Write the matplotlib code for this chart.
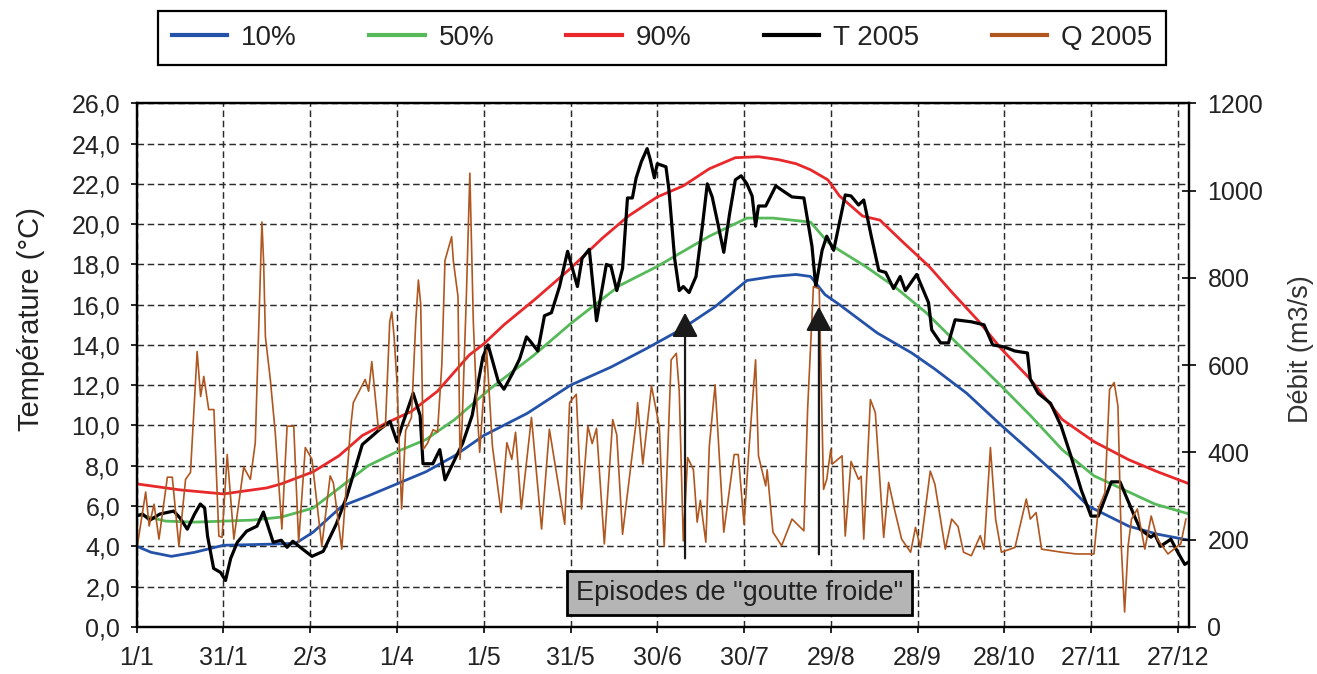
import matplotlib
matplotlib.use("Agg")
import matplotlib.pyplot as plt

plt.rcParams['font.family'] = ['Liberation Sans', 'DejaVu Sans']

# day of year (0 = 1 janvier)
tick_days = [0, 30, 60, 90, 120, 150, 180, 210, 240, 270, 300, 330, 360]
tick_labels = ["1/1", "31/1", "2/3", "1/4", "1/5", "31/5", "30/6", "30/7",
               "29/8", "28/9", "28/10", "27/11", "27/12"]

# percentile curves of temperature (°C)
p10_days = [0, 5, 12, 20, 30, 45, 55, 61, 71, 80, 90, 100, 110, 120, 135, 150, 164, 176,
            188, 200, 211, 220, 228, 233, 238, 243, 256, 268, 276, 287, 299, 310, 320,
            329, 343, 353, 364]
p10 = [4.0, 3.7, 3.5, 3.7, 4.05, 4.1, 4.15, 4.7, 6.0, 6.5, 7.1, 7.7, 8.5, 9.5, 10.6, 12.0,
       12.9, 13.8, 14.75, 15.9, 17.2, 17.4, 17.5, 17.4, 16.5, 16.0, 14.6, 13.6, 12.8, 11.6,
       10.0, 8.6, 7.3, 6.0, 5.0, 4.6, 4.3]

p50_days = [0, 10, 20, 30, 40, 50, 61, 71, 80, 90, 100, 110, 122, 137, 150, 167, 180, 198,
            211, 220, 233, 239, 243, 252, 262, 273, 286, 293, 299, 309, 320, 331, 343, 352, 364]
p50 = [5.6, 5.25, 5.2, 5.25, 5.3, 5.45, 5.9, 7.0, 8.0, 8.7, 9.3, 10.3, 11.8, 13.45, 15.05,
       16.95, 17.9, 19.4, 20.3, 20.3, 20.1, 19.1, 18.7, 17.9, 16.9, 15.6, 13.75, 12.8, 11.95,
       10.5, 8.8, 7.5, 6.7, 6.1, 5.6]

p90_days = [0, 15, 30, 45, 50, 61, 70, 78, 86, 95, 104, 115, 120, 127, 138, 150, 161, 170,
            180, 189, 198, 207, 215, 222, 228, 233, 239, 243, 251, 257, 265, 274, 282, 291,
            299, 309, 320, 331, 343, 353, 364]
p90 = [7.1, 6.8, 6.6, 6.9, 7.1, 7.7, 8.5, 9.5, 10.1, 10.7, 11.7, 13.5, 14.05, 15.0, 16.3,
       17.8, 19.3, 20.4, 21.35, 21.9, 22.75, 23.3, 23.35, 23.2, 23.0, 22.7, 22.2, 21.4, 20.4,
       20.2, 19.1, 17.9, 16.6, 15.2, 13.8, 12.3, 10.3, 9.2, 8.3, 7.7, 7.1]

# temperature 2005 (°C)
t_days = [0, 2, 4.6, 8, 12.8, 15, 17.5, 20, 22, 23.5, 24.5, 26.6, 29, 30.7, 32.5, 34.8, 38,
          41.6, 43.8, 47.2, 50, 52, 54, 57, 60.6, 64.5, 69, 72.7, 78, 84, 87.6, 90, 92, 95.6,
          98, 99, 102.4, 104.8, 106.6, 112.8, 116, 119.7, 121.5, 125, 127, 130, 132.4, 134.8,
          136, 138.7, 141, 143.4, 146.2, 149, 152.4, 154, 156.5, 159, 162.4, 164, 166, 168,
          169.7, 171.4, 172.7, 174.5, 176.5, 177.5, 179, 180, 183, 184, 186, 187.6, 189, 191,
          193.4, 195.6, 197.3, 199, 201, 203, 205, 207, 209, 211, 212.8, 214, 215, 217.5, 221,
          224, 226.6, 230.7, 233.5, 234.8, 237, 238.6, 241, 245, 247, 249.6, 251.4, 254,
          256.6, 259, 261.7, 264, 265.8, 269.7, 273.8, 274.9, 278, 280.7, 283, 288.6, 293,
          296, 300, 303.6, 308, 309, 311.7, 316, 319.7, 323, 326.6, 330, 332.5, 337, 340, 345,
          347, 350.7, 352, 354, 357.6, 360, 362.4, 363.5]
t2005 = [5.5, 5.6, 5.3, 5.6, 5.75, 5.4, 4.85, 5.6, 6.1, 5.9, 4.5, 2.9, 2.7, 2.3, 3.4, 4.2,
         4.75, 5.0, 5.7, 4.2, 4.3, 3.95, 4.25, 3.9, 3.5, 3.75, 5.1, 6.5, 9.05, 9.8, 10.2, 9.2,
         10.1, 11.6, 10.5, 8.1, 8.1, 8.8, 7.3, 9.15, 10.5, 13.4, 14.0, 12.2, 11.8, 12.6, 13.3,
         14.4, 14.2, 13.7, 15.45, 15.6, 16.9, 18.65, 16.9, 18.3, 18.75, 15.2, 18.0, 17.9, 16.7,
         17.8, 21.3, 21.3, 22.3, 23.1, 23.75, 23.25, 22.3, 23.0, 22.85, 21.75, 18.3, 16.7,
         16.9, 16.6, 17.4, 19.9, 22.0, 21.35, 20.0, 18.6, 20.5, 22.2, 22.4, 22.0, 21.4, 19.9,
         20.9, 20.9, 21.9, 21.6, 21.35, 21.3, 18.9, 16.9, 18.7, 19.4, 18.7, 21.45, 21.4, 20.95,
         21.2, 19.4, 17.7, 17.6, 16.8, 17.4, 16.7, 17.5, 16.1, 14.75, 14.1, 14.1, 15.25,
         15.15, 15.0, 14.0, 13.9, 13.7, 13.6, 12.3, 11.6, 11.1, 9.95, 8.5, 6.8, 5.5, 5.5, 7.2,
         7.2, 5.5, 4.85, 4.45, 4.6, 4.0, 4.35, 3.7, 3.1, 3.2]

# discharge 2005 (m3/s)
q_days = [0.2, 3.1, 4.3, 6.0, 7.7, 10.6, 12.3, 14.6, 16.9, 18.6, 20.9, 22.1, 23.2, 24.9,
          26.7, 28.4, 29.5, 31.3, 33.6, 37.0, 39.3, 41.0, 43.3, 43.9, 44.5, 46.2, 47.9, 50.2,
          52.0, 54.3, 56.0, 58.3, 60.6, 64.0, 66.9, 68.0, 70.9, 73.8, 74.9, 79.0, 80.2, 81.3,
          83.6, 86.0, 87.5, 88.2, 89.0, 90.0, 91.6, 93.0, 95.0, 96.5, 97.4, 98.2, 99.1, 100.5,
          102.5, 104.0, 105.5, 106.6, 108.9, 109.5, 111.1, 111.8, 112.5, 114.0, 115.2, 116.4,
          117.5, 118.6, 121, 123, 126, 128, 129.7, 131, 133, 136.5, 140, 142.7, 148, 149.7,
          152, 153.8, 156, 157.5, 159, 161.7, 164.6, 166, 168, 172.7, 173.2, 175, 178, 180.7,
          182.4, 184.8, 186.6, 187.6, 189, 190.5, 192.5, 193.8, 194.9, 196.8, 198, 200, 201.2,
          203, 206.6, 208, 210, 211.7, 214, 215, 217.5, 218, 220, 223, 226.6, 230.7, 232,
          234, 236, 237.5, 238.6, 240, 240.5, 243.9, 245, 247, 249.6, 250.5, 251.4, 253.7,
          255.4, 258.3, 260, 262, 264.5, 267.6, 269.3, 271, 274.4, 276, 279.6, 281.8, 284,
          285.9, 288.6, 291.7, 293, 295.2, 297, 299, 303.7, 307.6, 309, 311, 312.9, 319.8,
          325, 331, 332.5, 334.8, 336.4, 338, 339.3, 340.5, 341.6, 342.8, 344, 346, 348.6,
          350.8, 353, 356.6, 359, 361, 362.8]
q2005 = [185, 309, 231, 281, 201, 343, 343, 185, 338, 354, 631, 528, 574, 498, 498, 208, 205,
         395, 201, 366, 338, 422, 928, 834, 665, 567, 446, 224, 460, 460, 194, 411, 384, 185,
         346, 330, 178, 446, 514, 567, 540, 608, 452, 460, 700, 722, 665, 560, 270, 450, 480,
         700, 795, 740, 407, 420, 452, 446, 600, 840, 894, 838, 757, 384, 460, 760, 1040, 698,
         522, 400, 635, 414, 262, 422, 384, 446, 270, 480, 224, 453, 235, 514, 533, 270, 460,
         420, 455, 190, 475, 440, 212, 470, 514, 373, 552, 460, 185, 612, 627, 540, 197, 388,
         360, 240, 290, 194, 414, 555, 420, 217, 395, 395, 235, 407, 612, 392, 323, 360, 217,
         186, 247, 220, 500, 780, 775, 315, 338, 407, 373, 392, 208, 379, 338, 345, 201, 521,
         491, 205, 331, 270, 201, 171, 228, 182, 357, 327, 178, 247, 230, 171, 163, 209, 178,
         411, 247, 171, 182, 293, 247, 262, 178, 171, 167, 167, 270, 308, 544, 560, 506, 178,
         34, 185, 247, 270, 178, 254, 200, 167, 180, 190, 247]

# "goutte froide" episodes
episode_days = [189.6, 235.9]
episode_tips = [15.6, 15.9]
episode_base = [3.4, 3.6]

c_blue = '#2552a9'
c_green = '#56b95a'
c_red = '#e8282b'
c_brown = '#b0561f'
txt = '#222222'

fig = plt.figure(figsize=(13.17, 6.74), dpi=100)
ax = fig.add_axes([0.1038, 0.0700, 0.7993, 0.7767])
ax2 = ax.twinx()

l1, = ax.plot(p10_days, p10, color=c_blue, lw=2.0, label='10%')
l2, = ax.plot(p50_days, p50, color=c_green, lw=2.0, label='50%')
l3, = ax.plot(p90_days, p90, color=c_red, lw=2.0, label='90%')
l4, = ax.plot(t_days, t2005, color='black', lw=2.3, label='T 2005')
l5, = ax2.plot(q_days, q2005, color=c_brown, lw=1.2, label='Q 2005')

ax.set_xlim(0, 364)
ax.set_ylim(0, 26)
ax2.set_ylim(0, 1200)

ax.set_xticks(tick_days)
ax.set_xticklabels(tick_labels)
ax.set_yticks(range(0, 27, 2))
ax.set_yticklabels([f"{v},0" for v in range(0, 27, 2)])
ax2.set_yticks(range(0, 1201, 200))

ax.grid(True, linestyle=(0, (4.5, 2.5)), color='#2a2a2a', lw=1.05)
ax.set_axisbelow(True)

for a in (ax, ax2):
    for s in a.spines.values():
        s.set_linewidth(1.6)
        s.set_color('black')

ax.tick_params(axis='y', direction='out', length=4, width=1.2, pad=8,
               labelsize=18, labelcolor=txt)
ax.tick_params(axis='x', direction='out', length=4, width=1.2, pad=10,
               labelsize=18, labelcolor=txt)
ax2.tick_params(axis='y', direction='inout', length=10, width=1.2, pad=8,
                labelsize=18, labelcolor=txt)

ax.set_ylabel("Température (°C)", fontsize=21, color=txt)
ax.yaxis.set_label_coords(-0.087, 0.588)
ax2.set_ylabel("Débit (m3/s)", fontsize=19.5, color='#333333')
ax2.yaxis.set_label_coords(1.094, 0.53)

# arrows + label box
for d, tip, base in zip(episode_days, episode_tips, episode_base):
    ax2.annotate('', xy=(d, tip), xytext=(d, base), xycoords=ax.transData,
                 textcoords=ax.transData,
                 arrowprops=dict(arrowstyle='-|>,head_length=0.75,head_width=0.4',
                                 mutation_scale=20, lw=1.6, color='#1a1a1a',
                                 shrinkA=0, shrinkB=0))
ax2.text(208.6, 1.69, 'Episodes de "goutte froide"', transform=ax.transData,
         ha='center', va='center', fontsize=19.5, color=txt,
         bbox=dict(boxstyle='square,pad=0.33', fc='#b5b5b5', ec='black', lw=2))

leg = fig.legend(handles=[l1, l2, l3, l4, l5], ncol=5, loc='center',
                 bbox_to_anchor=(662 / 1317, 1 - 38 / 674),
                 fontsize=20, handlelength=2.0, handletextpad=0.5,
                 columnspacing=2.6, borderpad=0.5, fancybox=False, framealpha=1,
                 edgecolor='black')
leg.get_frame().set_linewidth(1.6)
for line in leg.get_lines():
    line.set_linewidth(3)
for t in leg.get_texts():
    t.set_color(txt)

fig.savefig('out.png', dpi=100)
